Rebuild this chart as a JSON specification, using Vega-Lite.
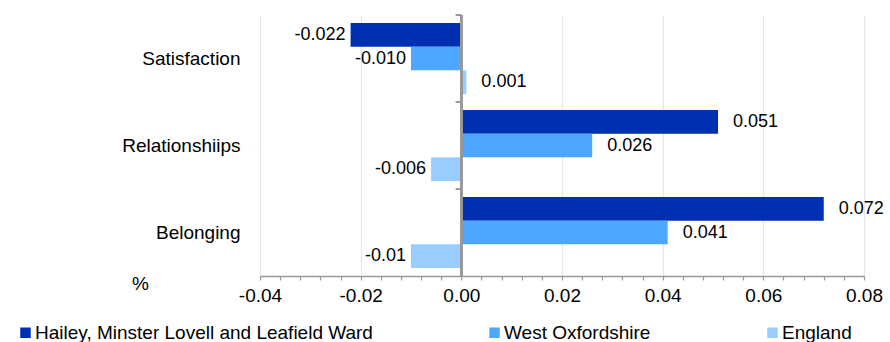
{
  "$schema": "https://vega.github.io/schema/vega-lite/v6.json",
  "width": 604,
  "height": 261,
  "autosize": "none",
  "padding": {"left": 260, "top": 15, "right": 26, "bottom": 66},
  "config": {"font": "Liberation Sans", "view": {"stroke": null}},
  "data": {
    "values": [
      {"measure": "Satisfaction", "area": "Hailey, Minster Lovell and Leafield Ward", "value": -0.022, "label": "-0.022"},
      {"measure": "Satisfaction", "area": "West Oxfordshire", "value": -0.010, "label": "-0.010"},
      {"measure": "Satisfaction", "area": "England", "value": 0.001, "label": "0.001"},
      {"measure": "Relationshiips", "area": "Hailey, Minster Lovell and Leafield Ward", "value": 0.051, "label": "0.051"},
      {"measure": "Relationshiips", "area": "West Oxfordshire", "value": 0.026, "label": "0.026"},
      {"measure": "Relationshiips", "area": "England", "value": -0.006, "label": "-0.006"},
      {"measure": "Belonging", "area": "Hailey, Minster Lovell and Leafield Ward", "value": 0.072, "label": "0.072"},
      {"measure": "Belonging", "area": "West Oxfordshire", "value": 0.041, "label": "0.041"},
      {"measure": "Belonging", "area": "England", "value": -0.010, "label": "-0.01"}
    ]
  },
  "layer": [
    {
      "mark": {"type": "bar"},
      "encoding": {
        "y": {"field": "measure", "type": "nominal", "sort": ["Satisfaction", "Relationshiips", "Belonging"],
              "scale": {"paddingInner": 0, "paddingOuter": 0},
              "axis": {"title": null, "domain": false, "ticks": false, "grid": false, "labelFontSize": 19, "labelColor": "#000000", "labelPadding": 20, "labelLimit": 300}},
        "yOffset": {"field": "area", "type": "nominal", "sort": ["Hailey, Minster Lovell and Leafield Ward", "West Oxfordshire", "England"],
                    "scale": {"paddingInner": 0, "paddingOuter": 0.335}},
        "x": {"field": "value", "type": "quantitative",
              "scale": {"domain": [-0.04, 0.08], "nice": false, "zero": false},
              "axis": {
                "title": "%", "titleFontSize": 19, "titleFontWeight": "normal", "titleColor": "#000000",
                "titleAnchor": "start", "titleAlign": "center", "titleX": -120, "titleY": 7, "titleBaseline": "middle",
                "tickCount": 100,
                "values": [-0.04, -0.036, -0.032, -0.028, -0.024, -0.02, -0.016, -0.012, -0.008, -0.004, 0, 0.004, 0.008, 0.012, 0.016, 0.02, 0.024, 0.028, 0.032, 0.036, 0.04, 0.044, 0.048, 0.052, 0.056, 0.06, 0.064, 0.068, 0.072, 0.076, 0.08],
                "labelExpr": "abs(datum.value*50 - round(datum.value*50)) < 0.01 ? replace(format(datum.value, '.2f'), '\u2212', '-') : ''",
                "labelFontSize": 19, "labelColor": "#000000", "labelPadding": 6, "labelFlush": false, "labelOverlap": false,
                "domainColor": "#999999", "domainWidth": 1.5, "tickColor": "#999999", "tickSize": 4, "tickWidth": 1.2,
                "grid": true, "gridColor": "#e6e6e6", "gridWidth": 1.2,
                "gridOpacity": {"condition": {"test": "abs(datum.value*50 - round(datum.value*50)) < 0.01", "value": 1}, "value": 0}
              }},
        "color": {"field": "area", "type": "nominal",
                  "scale": {"domain": ["Hailey, Minster Lovell and Leafield Ward", "West Oxfordshire", "England"], "range": ["#0030B2", "#4DA6FF", "#99CCFF"]},
                  "legend": {"title": null, "orient": "none", "legendX": -244, "legendY": 308, "direction": "horizontal", "columns": 3, "columnPadding": 112,
                             "symbolType": "square", "symbolSize": 110, "symbolStrokeWidth": 0, "labelFontSize": 19, "labelColor": "#000000", "labelOffset": 0, "labelLimit": 500}}
      }
    },
    {
      "transform": [{"filter": "datum.value >= 0"}],
      "mark": {"type": "text", "align": "left", "baseline": "middle", "dx": 15, "fontSize": 18, "color": "#000000"},
      "encoding": {
        "y": {"field": "measure", "type": "nominal", "sort": ["Satisfaction", "Relationshiips", "Belonging"]},
        "yOffset": {"field": "area", "type": "nominal", "sort": ["Hailey, Minster Lovell and Leafield Ward", "West Oxfordshire", "England"]},
        "x": {"field": "value", "type": "quantitative"},
        "text": {"field": "label"}
      }
    },
    {
      "transform": [{"filter": "datum.value < 0"}],
      "mark": {"type": "text", "align": "right", "baseline": "middle", "dx": -5, "fontSize": 18, "color": "#000000"},
      "encoding": {
        "y": {"field": "measure", "type": "nominal", "sort": ["Satisfaction", "Relationshiips", "Belonging"]},
        "yOffset": {"field": "area", "type": "nominal", "sort": ["Hailey, Minster Lovell and Leafield Ward", "West Oxfordshire", "England"]},
        "x": {"field": "value", "type": "quantitative"},
        "text": {"field": "label"}
      }
    },
    {
      "mark": {"type": "rule", "color": "#999999", "strokeWidth": 2},
      "encoding": {"x": {"datum": 0}}
    },
    {
      "mark": {"type": "rule", "color": "#999999", "strokeWidth": 1.5},
      "encoding": {
        "y": {"field": "measure", "type": "nominal", "sort": ["Satisfaction", "Relationshiips", "Belonging"], "bandPosition": 0},
        "x": {"datum": -0.0011},
        "x2": {"datum": 0}
      }
    }
  ]
}
